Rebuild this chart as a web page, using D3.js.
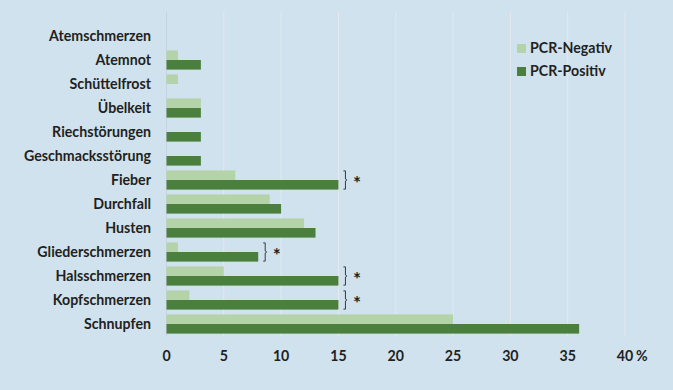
<!DOCTYPE html>
<html>
<head>
<meta charset="utf-8">
<script src="https://cdn.jsdelivr.net/npm/d3@7"></script>
<style>
  html, body { margin: 0; padding: 0; background: #d0e2ee; }
  svg { display: block; font-family: Lato, "Open Sans", sans-serif; }
</style>
</head>
<body>
<div id="chart"></div>
<script>
// categories from top to bottom
var categories = ["Atemschmerzen", "Atemnot", "Schüttelfrost", "Übelkeit", "Riechstörungen",
    "Geschmacksstörung", "Fieber", "Durchfall", "Husten", "Gliederschmerzen",
    "Halsschmerzen", "Kopfschmerzen", "Schnupfen"];
var pcrNegativ = [0, 1, 1, 3, 0, 0, 6, 9, 12, 1, 5, 2, 25];
var pcrPositiv = [0, 3, 0, 3, 3, 3, 15, 10, 13, 8, 15, 15, 36];
var seriesNames = ["PCR-Negativ", "PCR-Positiv"];
var xTicks = [0, 5, 10, 15, 20, 25, 30, 35, 40];
// significant differences
var significant = ["Fieber", "Gliederschmerzen", "Halsschmerzen", "Kopfschmerzen"];

var width = 673, height = 390;
var margin = {top: 24, right: 48, bottom: 54, left: 166.5};
var colors = {"PCR-Negativ": "#b4d3a9", "PCR-Positiv": "#4b7f3d"};
var textColor = "#231f20";
var fs = 14.2;

var svg = d3.select("#chart").append("svg")
    .attr("width", width)
    .attr("height", height);

svg.append("rect").attr("width", width).attr("height", height).attr("fill", "#d0e2ee");

var x = d3.scaleLinear()
    .domain([0, 40])
    .range([margin.left, margin.left + 458.5]);

var y = d3.scaleBand()
    .domain(categories)
    .range([margin.top, height - margin.bottom])
    .paddingInner(0.2)
    .paddingOuter(0.1);

var ySub = d3.scaleBand()
    .domain(seriesNames)
    .range([0, y.bandwidth()]);

// gridlines
svg.append("g")
    .selectAll("line")
    .data(xTicks)
    .join("line")
    .attr("x1", d => x(d)).attr("x2", d => x(d))
    .attr("y1", 12).attr("y2", y("Schnupfen") + y.bandwidth() + 3)
    .attr("stroke", d => d === 0 ? "#c4d3dd" : "#e4e9ec")
    .attr("stroke-width", 1);

// bars
var rows = categories.map((c, i) => ({cat: c, vals: [
    {s: "PCR-Negativ", v: pcrNegativ[i]},
    {s: "PCR-Positiv", v: pcrPositiv[i]}
]}));

var g = svg.append("g")
    .selectAll("g")
    .data(rows)
    .join("g")
    .attr("transform", d => "translate(0," + y(d.cat) + ")");

g.selectAll("rect")
    .data(d => d.vals)
    .join("rect")
    .attr("x", x(0))
    .attr("y", d => ySub(d.s))
    .attr("width", d => x(d.v) - x(0))
    .attr("height", ySub.bandwidth())
    .attr("fill", d => colors[d.s]);

// category labels
svg.append("g")
    .selectAll("text")
    .data(categories)
    .join("text")
    .attr("x", 151)
    .attr("y", d => y(d) + y.bandwidth() / 2)
    .attr("dy", "0.35em")
    .attr("text-anchor", "end")
    .attr("font-size", fs)
    .attr("font-weight", "bold")
    .attr("fill", textColor)
    .text(d => d);

// x axis tick labels
svg.append("g")
    .selectAll("text")
    .data(xTicks)
    .join("text")
    .attr("x", d => x(d))
    .attr("y", 356)
    .attr("dy", "0.35em")
    .attr("text-anchor", "middle")
    .attr("font-size", fs)
    .attr("font-weight", "bold")
    .attr("fill", textColor)
    .text(d => d);

svg.append("text")
    .attr("x", x(40) + 11)
    .attr("y", 356)
    .attr("dy", "0.35em")
    .attr("font-size", fs)
    .attr("font-weight", "bold")
    .attr("fill", textColor)
    .text("%");

// significance brackets
var sig = svg.append("g")
    .selectAll("g")
    .data(significant)
    .join("g")
    .attr("transform", d => {
        var i = categories.indexOf(d);
        return "translate(" + (x(Math.max(pcrNegativ[i], pcrPositiv[i])) + 5) + "," + y(d) + ")";
    });

sig.append("path")
    .attr("d", () => {
        var h = y.bandwidth();
        return "M0,0.5 H2 V" + (h / 2 - 1) + " L3.5," + (h / 2) + " L2," + (h / 2 + 1) + " V" + (h - 0.5) + " H0";
    })
    .attr("fill", "none")
    .attr("stroke", "#3a3a3a")
    .attr("stroke-width", 1);

sig.append("text")
    .attr("x", 9.5)
    .attr("y", y.bandwidth() / 2 + 10)
    .attr("font-size", 19)
    .attr("font-weight", "bold")
    .attr("fill", textColor)
    .text("*");

// legend
var legend = svg.append("g")
    .selectAll("g")
    .data(seriesNames)
    .join("g")
    .attr("transform", (d, i) => "translate(517," + (44 + i * 23) + ")");

legend.append("rect")
    .attr("width", 9)
    .attr("height", 9)
    .attr("fill", d => colors[d]);

legend.append("text")
    .attr("x", 13)
    .attr("y", 4.5)
    .attr("dy", "0.35em")
    .attr("font-size", fs)
    .attr("font-weight", "bold")
    .attr("fill", textColor)
    .text(d => d);
</script>
</body>
</html>
